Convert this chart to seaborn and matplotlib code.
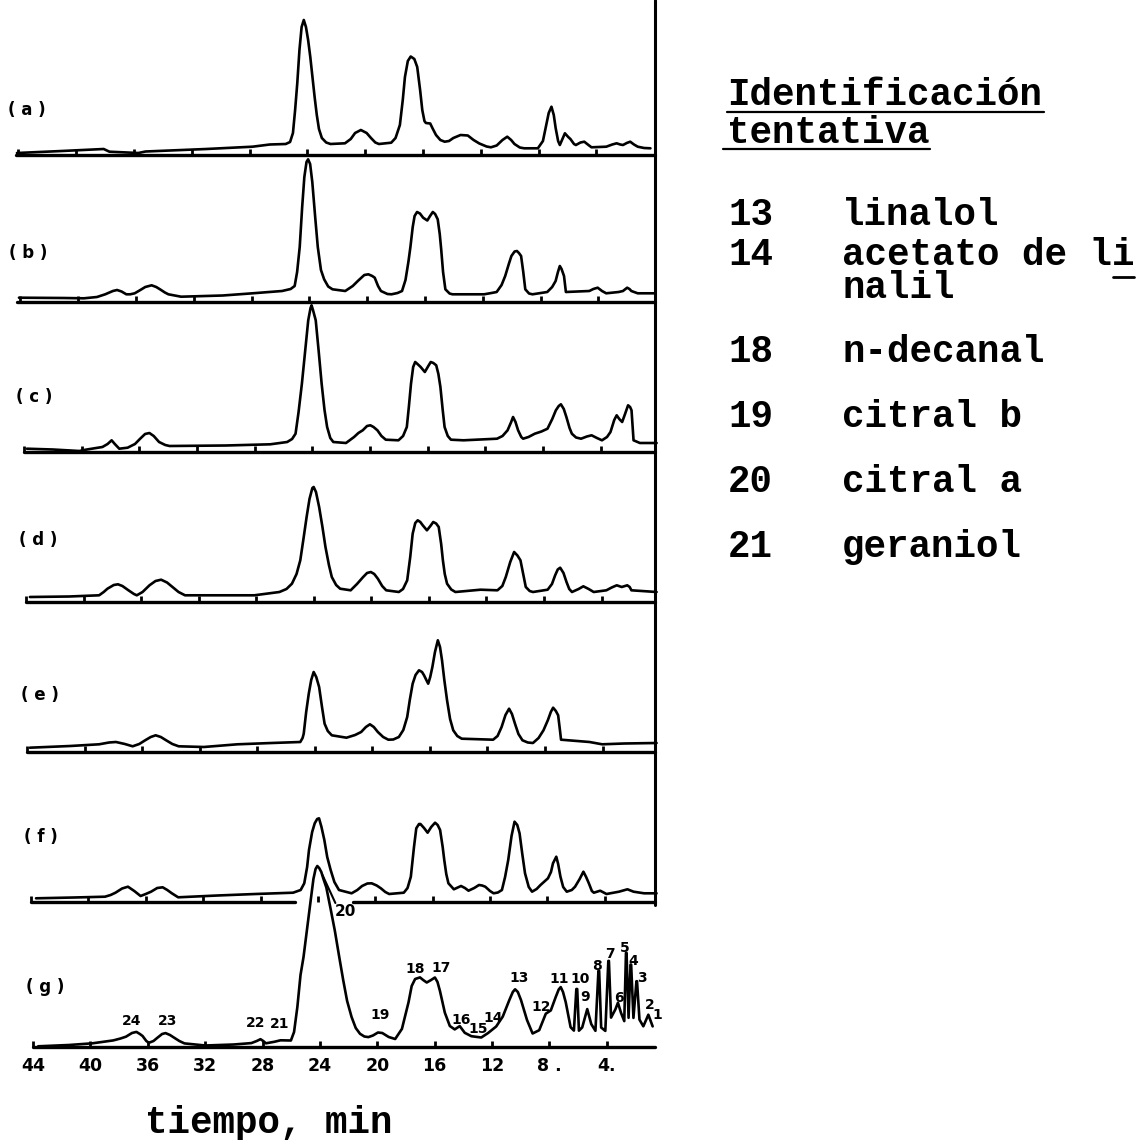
import matplotlib
matplotlib.use("Agg")
import matplotlib.pyplot as plt
from matplotlib.lines import Line2D
import pandas as pd
import seaborn as sns

# ---------------------------------------------------------------------------
# Chromatograms (a)-(g): retention time in min, detector response in chart units
# ---------------------------------------------------------------------------
a_time = [44.1, 41.0, 38.1, 37.7, 35.7, 35.2, 31.0, 27.8, 26.6, 25.5, 25.2, 25.0, 24.85,
          24.7, 24.55, 24.4, 24.25, 24.1, 23.95, 23.8, 23.65, 23.5, 23.35, 23.2, 23.0,
          22.7, 22.4, 21.4, 21.0, 20.7, 20.3, 19.9, 19.6, 19.3, 19.05, 18.2, 17.9, 17.6,
          17.4, 17.25, 17.05, 16.85, 16.6, 16.4, 16.2, 16.05, 15.9, 15.8, 15.5, 15.35,
          15.1, 14.8, 14.5, 14.2, 13.9, 13.4, 12.9, 12.5, 12.1, 11.6, 11.3, 10.9, 10.5,
          10.17, 9.9, 9.67, 9.3, 9.0, 8.05, 7.7, 7.5, 7.3, 7.11, 6.95, 6.82, 6.65, 6.53,
          6.35, 6.18, 5.95, 5.8, 5.55, 5.42, 5.1, 4.84, 4.55, 4.34, 3.32, 2.9, 2.6, 2.35,
          2.16, 1.9, 1.66, 1.4, 1.14, 0.7, 0.26]
a_signal = [2, 4, 6, 3.3, 2, 3.5, 6, 8.3, 10.5, 11, 13, 22, 45,
            72, 105, 128, 135, 128, 115, 98, 78, 58, 40, 26, 17,
            12.5, 11, 11.7, 16, 22, 25, 22, 17, 12.5, 11, 12.3, 17, 30,
            55, 78, 94, 98.5, 96, 88, 65, 45, 34, 32, 31.5, 27,
            20, 15, 13.3, 14, 17, 20, 19.5, 15, 11.5, 8.5, 7.7, 9.5, 15,
            18.3, 15, 11, 7.5, 6.7, 6.7, 14, 28, 42, 48.3, 40, 27, 14, 10,
            16, 21.7, 18, 16, 11, 10, 12.5, 13.3, 10, 7.7, 8.3, 10.5, 11.7, 10.5,
            10, 12, 13.3, 10.5, 8.3, 7, 6.7]

b_time = [44.1, 41.0, 39.6, 38.7, 38.13, 37.6, 37.31, 37.0, 36.67, 36.4, 36.09, 35.7,
          35.36, 34.92, 34.6, 34.34, 34.0, 33.76, 32.88, 30.0, 27.93, 25.89, 25.3, 25.02,
          24.85, 24.67, 24.5, 24.35, 24.2, 24.09, 23.95, 23.8, 23.6, 23.42, 23.2, 22.98,
          22.7, 22.4, 21.52, 21.0, 20.65, 20.2, 19.92, 19.65, 19.48, 19.25, 19.05, 18.6,
          18.32, 17.9, 17.59, 17.35, 17.15, 17.01, 16.85, 16.72, 16.55, 16.35, 16.13,
          15.84, 15.65, 15.46, 15.3, 15.12, 14.98, 14.88, 14.75, 14.59, 14.3, 14.1, 11.91,
          11.4, 11.04, 10.7, 10.45, 10.2, 10.02, 9.8, 9.64, 9.5, 9.35, 9.2, 9.06, 8.8,
          8.56, 7.54, 7.2, 6.96, 6.8, 6.67, 6.55, 6.38, 6.25, 4.63, 4.35, 4.05, 3.75,
          3.46, 2.6, 2.3, 2.01, 1.85, 1.72, 1.28, 0.11]
b_signal = [4.3, 4, 3.7, 5, 7.7, 11, 12, 10.5, 7.7, 7.7, 8.7, 12,
            15, 16.7, 15, 12.7, 9.5, 7.7, 5.3, 6.5, 8.7, 11, 13, 16,
            30, 55, 95, 125, 140, 142.7, 138, 120, 85, 55, 32, 22.7,
            15.5, 12.7, 11, 16, 21, 27, 27.7, 26, 24.3, 16, 11, 8,
            7.7, 9, 11, 22, 40, 55, 75, 86, 90, 88.5, 84.3,
            81.5, 86, 90, 88, 82.7, 68, 52.7, 30, 12.7, 8.5, 7.7, 7.7,
            9, 10, 17, 26, 38, 46, 50.5, 51, 49, 46, 30, 12.7, 8.5,
            7.7, 10, 15, 21, 30, 36, 33, 26, 10, 11, 13, 14.3, 11,
            8.7, 10, 11, 14.3, 13, 11, 8.7, 8.7]

c_time = [43.8, 42.0, 40.16, 39.72, 38.56, 38.2, 37.92, 37.7, 37.39, 36.81, 36.3, 35.94,
          35.6, 35.3, 35.0, 34.63, 34.2, 33.9, 30.0, 26.91, 25.74, 25.4, 25.16, 24.95,
          24.72, 24.5, 24.28, 24.12, 24.05, 23.95, 23.76, 23.55, 23.35, 23.15, 22.97,
          22.75, 22.54, 21.66, 21.1, 20.8, 20.5, 20.2, 19.97, 19.75, 19.48, 19.2, 18.9,
          18.02, 17.7, 17.44, 17.3, 17.15, 17.0, 16.86, 16.7, 16.48, 16.19, 15.95, 15.78,
          15.6, 15.4, 15.25, 15.11, 14.95, 14.82, 14.6, 14.38, 13.51, 11.18, 10.8, 10.45,
          10.2, 10.07, 9.9, 9.72, 9.5, 9.37, 9.0, 8.56, 8.1, 7.68, 7.35, 7.1, 6.9, 6.75,
          6.55, 6.37, 6.15, 5.99, 5.7, 5.35, 4.95, 4.62, 4.25, 3.9, 3.55, 3.31, 3.05,
          2.88, 2.7, 2.5, 2.3, 2.09, 1.95, 1.85, 1.71, 1.27, 0.11]
c_signal = [3.3, 2.5, 1, 2.3, 5, 8, 11.7, 8, 3.3, 4.3, 8, 13.3,
            18, 19, 16, 10, 7, 6, 6.5, 7.7, 10, 13, 18.3, 40,
            68.3, 100, 131.7, 144, 146.7, 142, 131.7, 100, 68.3, 42, 25,
            14, 10, 9, 15, 19, 21.7, 26, 26.7, 25, 21.7, 16, 12.3,
            11.7, 16, 25, 45, 68.3, 85, 90, 88, 85, 80, 86, 90,
            89, 86.7, 78, 65, 42, 25, 16, 12.3, 11.7, 13.3, 16, 21.7,
            30, 35, 30, 21.7, 15, 13.3, 15, 18.3, 20.5, 23.3, 33, 41.7, 46, 47.7,
            43, 35, 24, 18.3, 14.5, 13.3, 15.5, 16.7, 14, 11.7, 15, 20, 32,
            36.7, 33, 30, 38, 46.7, 45, 41.7, 11.7, 9, 9]

d_time = [43.73, 41.0, 38.92, 38.6, 38.34, 37.9, 37.61, 37.3, 36.88, 36.5, 36.3, 35.9,
          35.42, 35.0, 34.61, 34.2, 33.82, 33.4, 32.95, 28.14, 26.39, 25.9, 25.52, 25.2,
          24.94, 24.7, 24.5, 24.3, 24.1, 24.01, 23.85, 23.63, 23.4, 23.19, 22.95, 22.75,
          22.45, 22.17, 21.44, 21.0, 20.57, 20.3, 20.04, 19.8, 19.55, 19.25, 18.97, 18.09,
          17.8, 17.51, 17.3, 17.13, 16.95, 16.78, 16.6, 16.43, 16.14, 15.9, 15.7, 15.5,
          15.32, 15.15, 15.03, 14.9, 14.74, 14.45, 14.16, 12.41, 11.24, 10.9, 10.66, 10.35,
          10.08, 9.85, 9.64, 9.45, 9.27, 9.0, 8.77, 7.75, 7.45, 7.23, 7.05, 6.88, 6.65,
          6.44, 6.25, 6.06, 5.6, 5.27, 4.9, 4.55, 3.67, 3.3, 2.95, 2.6, 2.22, 2.05, 1.93,
          0.18]
d_signal = [5, 5.5, 6.7, 10, 13.3, 17, 17.7, 16, 11.7, 8, 6.7, 10,
            16.7, 21, 22.3, 19.5, 15, 10, 6.7, 6.7, 10, 13, 18.3, 28,
            41.7, 65, 85, 103, 114, 115, 110, 95, 75, 55, 37, 25,
            17, 13.3, 11.7, 18, 25, 29, 30, 28, 23.3, 16, 11.7, 10,
            13, 21.7, 45, 68.3, 79, 81.7, 80, 76.7, 71.7, 76, 80, 78.5,
            75, 58, 41.7, 28, 18.3, 12.5, 10, 12.3, 11.7, 16, 25, 40,
            50, 46.5, 41.7, 28, 15, 11, 10, 12.3, 18, 26.7, 32.5, 34.3, 29,
            20, 13, 10, 13, 15.7, 13, 10, 11.7, 14.5, 16.7, 15, 16.7, 15, 11.7,
            10]

e_time = [43.8, 41.0, 38.99, 38.3, 37.82, 37.2, 36.66, 36.2, 35.79, 35.4, 35.06, 34.7,
          34.33, 33.9, 33.46, 31.71, 29.38, 27.0, 25.01, 24.85, 24.77, 24.6, 24.42, 24.25,
          24.08, 23.9, 23.7, 23.5, 23.32, 23.1, 22.82, 21.8, 21.2, 20.78, 20.45, 20.17,
          19.9, 19.62, 19.25, 18.89, 18.55, 18.16, 17.85, 17.58, 17.4, 17.2, 17.0, 16.76,
          16.55, 16.41, 16.25, 16.12, 15.98, 15.83, 15.65, 15.45, 15.3, 15.16, 15.0, 14.81,
          14.6, 14.38, 14.1, 13.79, 11.61, 11.3, 11.02, 10.75, 10.5, 10.3, 10.09, 9.85,
          9.57, 9.2, 8.84, 8.45, 8.11, 7.8, 7.6, 7.44, 7.25, 7.09, 6.95, 6.89, 4.91, 4.03,
          2.5, 0.25]
e_signal = [4.3, 6, 7.7, 9.5, 10, 8, 5.7, 8, 11.7, 15, 16.7, 15,
            11.7, 8, 5.7, 5, 7.7, 9, 10, 14, 18.3, 40, 58.3, 72,
            80, 75, 65, 45, 28.3, 21, 16.7, 14.3, 17, 20, 25, 27.7,
            25, 20, 15, 12.3, 12.5, 15, 22, 35, 52, 68.3, 77, 81.7,
            80, 76.7, 72, 68.3, 75, 85, 100, 111.7, 105, 91.7, 72, 51.7,
            33, 21.7, 16, 13.3, 12.3, 16, 25, 37, 43.3, 38, 28.3, 18,
            11.7, 9.5, 9, 14, 21.7, 32, 40, 44.3, 41, 36.7, 20, 12.3, 10, 7.7,
            8.5, 9]

f_time = [43.65, 41.0, 38.84, 38.45, 38.11, 37.65, 37.24, 36.8, 36.36, 36.0, 35.63, 35.2,
          34.82, 34.5, 34.18, 33.74, 31.0, 28.35, 25.73, 25.2, 24.95, 24.75, 24.62, 24.4,
          24.22, 24.05, 23.92, 23.75, 23.55, 23.35, 23.11, 22.85, 22.53, 21.65, 21.25,
          20.92, 20.55, 20.25, 19.9, 19.61, 19.3, 19.03, 18.01, 17.75, 17.52, 17.3, 17.14,
          16.95, 16.85, 16.6, 16.35, 16.1, 15.83, 15.65, 15.48, 15.3, 15.19, 15.05, 14.9,
          14.52, 14.25, 14.02, 13.75, 13.5, 13.1, 12.77, 12.55, 12.33, 12.0, 11.75, 11.45,
          11.17, 10.95, 10.73, 10.5, 10.29, 10.1, 9.94, 9.75, 9.56, 9.3, 9.07, 8.75, 8.48,
          7.96, 7.75, 7.61, 7.38, 7.25, 7.09, 6.9, 6.65, 6.3, 6.07, 5.75, 5.49, 5.3, 5.11,
          4.9, 4.76, 4.32, 3.88, 3.01, 2.42, 1.99, 1.26, 0.39]
f_signal = [3.7, 4.5, 5.3, 7, 9.3, 13.5, 15.3, 11, 6, 8, 10.3, 14,
            14.7, 12, 8.7, 4.7, 6.5, 8, 9.3, 12, 18.7, 35, 52, 70,
            78.7, 83, 83.7, 75, 62, 45, 32, 20, 12, 8.7, 12,
            16, 18.5, 18.7, 16.5, 13.7, 10, 8, 9.3, 14, 25.3, 55, 73.7,
            78, 78, 74, 69.3, 75, 79.3, 77, 72, 55, 42, 28, 18.7,
            12.7, 14.5, 16, 14, 11.3, 14, 17, 16.5, 15.3, 11, 8.7, 9.5,
            12, 25, 42, 66, 80.3, 77, 68.7, 48, 28.7, 15, 10.3, 13, 17,
            23.7, 30, 38.7, 45.3, 38, 25.3, 15, 10.3, 12, 15.3, 23, 30.3, 25, 18.7,
            11, 9.3, 11.3, 8, 10.3, 12.7, 10.3, 8.7, 8.7]

g_time = [43.64, 41.5, 39.85, 38.4, 37.9, 37.52, 37.1, 36.79, 36.55, 36.36, 36.1, 35.92,
          35.6, 35.34, 35.0, 34.76, 34.45, 34.17, 33.8, 33.44, 31.99, 30.0, 28.78, 28.4,
          28.14, 27.95, 27.76, 27.18, 26.74, 26.02, 25.8, 25.57, 25.35, 25.14, 24.7, 24.45,
          24.3, 24.18, 24.05, 23.9, 23.75, 23.55, 23.25, 22.96, 22.65, 22.37, 22.1, 21.79,
          21.5, 21.2, 20.9, 20.62, 20.3, 19.95, 19.65, 19.2, 18.75, 18.28, 17.82, 17.6,
          17.36, 17.02, 16.8, 16.55, 16.25, 15.98, 15.8, 15.63, 15.29, 14.94, 14.6, 14.25,
          13.9, 13.44, 12.75, 12.28, 11.71, 11.25, 10.79, 10.55, 10.39, 10.2, 9.98, 9.56,
          9.17, 8.71, 8.25, 7.9, 7.56, 7.35, 7.21, 7.05, 6.86, 6.52, 6.29, 6.12, 6.06,
          5.94, 5.71, 5.36, 5.08, 4.79, 4.58, 4.53, 4.39, 4.1, 3.89, 3.85, 3.7, 3.4, 3.22,
          3.01, 2.78, 2.66, 2.62, 2.48, 2.34, 2.3, 2.14, 1.93, 1.89, 1.72, 1.45, 1.1, 0.8]
g_signal = [0.7, 2, 3.7, 6.6, 8.5, 10.3, 14, 15.1, 13, 11, 6, 4.2,
            6, 9.1, 13, 13.9, 12, 9.4, 6, 3.6, 1.5, 2.5, 3.9, 6,
            7.8, 6, 3.7, 5.2, 6.7, 6.5, 15, 40, 72, 90, 140, 168,
            178, 181, 179, 175, 168, 159.5, 138, 116.5, 90, 66.6, 46, 30,
            19, 13.2, 10.5, 9.9, 11.5, 14.5, 14, 10, 8, 18.1, 44.7, 61,
            68, 69.6, 67, 64.5, 67, 69.5, 65, 56.1, 34.4, 21, 17.6, 20.9,
            14.2, 10.8, 9.5, 13.9, 20.5, 30.4, 47, 55, 57.7, 55, 47, 27,
            13.5, 16.8, 33.3, 36.6, 49.9, 57.5, 59.9, 55, 44.8, 19.8, 16.4, 58, 58,
            16.3, 19.6, 37.9, 22.9, 16.2, 76.2, 76.2, 19.5, 16.1, 86.1, 86.1, 29.4, 37.6, 44.3,
            34.3, 25.9, 94.2, 94.2, 29.2, 82.5, 82.5, 29.1, 65.8, 65.8, 27.4, 20.7, 32.3, 20.6]

# Peak numbers written on chromatogram (g)
g_peak_ids = ["24", "23", "22", "21", "19", "18", "17", "16", "15", "14", "13", "12",
              "11", "10", "9", "8", "7", "6", "5", "4", "3", "2", "1"]
g_peak_label_time = [37.11, 34.62, 28.49, 26.83, 19.81, 17.36, 15.52, 14.13, 12.98, 11.94,
                     10.14, 8.6, 7.33, 5.83, 5.48, 4.67, 3.75, 3.18, 2.76, 2.14, 1.56,
                     0.98, 0.5]
g_peak_label_height = [26.4, 25.7, 24.0, 23.5, 32.0, 78.0, 78.6, 27.5, 18.0, 29.0,
                       68.6, 40.0, 68.2, 68.0, 49.6, 81.2, 92.7, 49.3, 99.2, 86.0, 69.4,
                       42.0, 32.0]

# Main peak of (g), citral a: leader from the peak flank to its number
g_main_peak_id = "20"
g_main_leader_time = [23.82, 22.92]
g_main_leader_height = [172.0, 144.0]
g_main_label_time = 22.22
g_main_label_height = 135.0

tick_times = [44, 40, 36, 32, 28, 24, 20, 16, 12, 8, 4]
tick_labels = ["44", "40", "36", "32", "28", "24", "20", "16", "12", "8 .", "4."]

ident_codes = ["13", "14", "18", "19", "20", "21"]
ident_names = ["linalol", "acetato de li", "n-decanal", "citral b", "citral a", "geraniol"]

# ---------------------------------------------------------------------------
# Layout (figure pixels)
# ---------------------------------------------------------------------------
W, H, DPI = 1141, 1140, 100
PX_PER_MIN = 14.45
X16 = 433            # horizontal position of the 16 min mark in panel (g)
RIGHT = 655
PANEL_H = 150

panels = [
    # key, label, trace time, trace signal, baseline y, shift, left edge, label xy
    ("a", "( a )", a_time, a_signal, 155, -10, 16, (27, 110)),
    ("b", "( b )", b_time, b_signal, 302, -8, 17, (28, 253)),
    ("c", "( c )", c_time, c_signal, 452, -6, 24, (34, 397)),
    ("d", "( d )", d_time, d_signal, 602, -5, 26, (38, 540)),
    ("e", "( e )", e_time, e_signal, 752, -4, 27, (40, 695)),
    ("f", "( f )", f_time, f_signal, 902, -2, 31, (41, 837)),
    ("g", "( g )", g_time, g_signal, 1047, 0, 33, (45, 987)),
]

sns.set_style("white")
plt.rcParams["font.family"] = ["DejaVu Sans"]
plt.rcParams["text.color"] = "black"
plt.rcParams["xtick.color"] = "black"
plt.rcParams["xtick.labelcolor"] = "black"

fig = plt.figure(figsize=(W / DPI, H / DPI), dpi=DPI)
fig.patch.set_facecolor("white")

MONO = ["Liberation Mono", "DejaVu Sans Mono"]
MONO_SIZE = 27


def fx(x):
    return x / W


def fy(y):
    return 1 - y / H


axes = {}
for key, label, times, signal, base_y, shift, left, lab_xy in panels:
    ax = fig.add_axes([fx(left), fy(base_y), (RIGHT - left) / W, PANEL_H / H])
    ax.patch.set_visible(False)
    df = pd.DataFrame({"tiempo": times, "respuesta": signal})
    sns.lineplot(data=df, x="tiempo", y="respuesta", ax=ax, color="black",
                 linewidth=1.9, sort=False, estimator=None, legend=False)
    for ln in ax.lines:
        ln.set_clip_on(False)
        ln.set_solid_joinstyle("round")
        ln.set_solid_capstyle("round")

    t_left = 16 + (X16 + shift - left) / PX_PER_MIN
    t_right = 16 - (RIGHT - X16 - shift) / PX_PER_MIN
    ax.set_xlim(t_left, t_right)
    ax.set_ylim(0, PANEL_H)
    for sp in ax.spines.values():
        sp.set_visible(False)
    ax.set_xlabel("")
    ax.set_ylabel("")
    ax.set_yticks([])
    ax.set_xticks(tick_times)
    ax.tick_params(axis="x", direction="in", length=4, width=2, color="black",
                   labelbottom=False, bottom=True)

    # time axis line (panel f is interrupted where the main peak of g crosses it)
    if key == "f":
        gap0 = (295 - left) / (RIGHT - left)
        gap1 = (353 - left) / (RIGHT - left)
        ax.axhline(0, xmin=0, xmax=gap0, color="black", lw=2.4, clip_on=False)
        ax.axhline(0, xmin=gap1, xmax=1, color="black", lw=2.4, clip_on=False)
    else:
        ax.axhline(0, color="black", lw=2.4, clip_on=False)

    fig.text(fx(lab_xy[0]), fy(lab_xy[1]), label, ha="center", va="center",
             fontsize=12, fontweight="bold", color="black")
    axes[key] = ax

# tick labels and peak numbers on (g)
ax_g = axes["g"]
ax_g.tick_params(axis="x", labelbottom=True, pad=7)
ax_g.set_xticklabels(tick_labels, fontsize=12.5, fontweight="bold", color="black")

for pid, pt, ph in zip(g_peak_ids, g_peak_label_time, g_peak_label_height):
    ax_g.text(pt, ph, pid, ha="center", va="center", fontsize=10,
              fontweight="bold", color="black", clip_on=False)

ax_g.plot(g_main_leader_time, g_main_leader_height, color="black", lw=1.5,
          clip_on=False, solid_capstyle="round")
ax_g.text(g_main_label_time, g_main_label_height, g_main_peak_id, ha="center",
          va="center", fontsize=11, fontweight="bold", color="black", clip_on=False)

# right-hand frame line of the recorder chart
fig.add_artist(Line2D([fx(RIGHT), fx(RIGHT)], [fy(0), fy(905)],
                      color="black", lw=2.2))

# axis title
fig.text(fx(145), fy(1133), "tiempo, min", family=MONO, fontweight="bold",
         fontsize=MONO_SIZE, ha="left", va="baseline", color="black")

# identification table
fig.text(fx(727), fy(105), "Identificación", family=MONO, fontweight="bold",
         fontsize=MONO_SIZE, ha="left", va="baseline")
fig.text(fx(727), fy(143), "tentativa", family=MONO, fontweight="bold",
         fontsize=MONO_SIZE, ha="left", va="baseline")
fig.add_artist(Line2D([fx(727), fx(1044)], [fy(112), fy(112)], color="black", lw=1.6))
fig.add_artist(Line2D([fx(723), fx(930)], [fy(149), fy(149)], color="black", lw=1.6))

row_y = [225, 265, 362, 427, 492, 557]
for code, name, y in zip(ident_codes, ident_names, row_y):
    fig.text(fx(728), fy(y), code, family=MONO, fontweight="bold", fontsize=MONO_SIZE,
             ha="left", va="baseline")
    fig.text(fx(842), fy(y), name, family=MONO, fontweight="bold", fontsize=MONO_SIZE,
             ha="left", va="baseline")
fig.text(fx(842), fy(298), "nalil", family=MONO, fontweight="bold", fontsize=MONO_SIZE,
         ha="left", va="baseline")
fig.add_artist(Line2D([fx(1113), fx(1134)], [fy(277), fy(277)], color="black", lw=2.0))

fig.savefig("out.png", dpi=DPI, facecolor="white")
